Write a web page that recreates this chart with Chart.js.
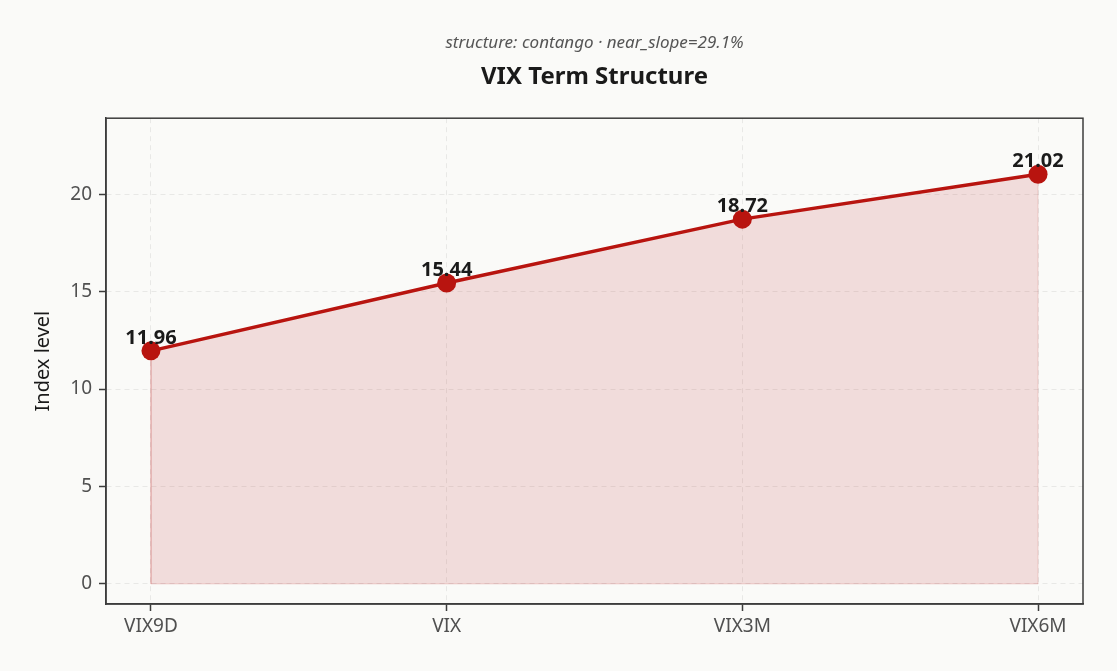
<!DOCTYPE html>
<html>
<head>
<meta charset="utf-8">
<script src="https://cdn.jsdelivr.net/npm/chart.js@4.4.1/dist/chart.umd.min.js"></script>
<style>
  html, body { margin: 0; padding: 0; background: #fafaf8; }
  #wrap { width: 1117px; height: 671px; }
</style>
</head>
<body>
<div id="wrap"><canvas id="c" width="1117" height="671"></canvas></div>
<script>
const categories = ['VIX9D', 'VIX', 'VIX3M', 'VIX6M'];
const vixValues = [11.96, 15.44, 18.72, 21.02];
const yTickValues = [0, 5, 10, 15, 20];
const titleText = 'VIX Term Structure';
const subtitleText = 'structure: contango \u00b7 near_slope=29.1%';
const yAxisTitle = 'Index level';

const FONT = "'Noto Sans', 'DejaVu Sans', sans-serif";
const RED = '#b8140f';

const mainPoints = vixValues.map((v, i) => ({ x: i, y: v }));
const last = vixValues.length - 1;
const outlinePoints = [
  { x: 0, y: vixValues[0] }, { x: 0, y: 0 },
  { x: last, y: 0 }, { x: last, y: vixValues[last] }
];

const framePlugin = {
  id: 'frame',
  afterDatasetsDraw(chart) {
    const { ctx, chartArea: a } = chart;
    ctx.save();
    ctx.setLineDash([]);
    ctx.strokeStyle = '#3c3c3c';
    ctx.lineWidth = 1.5;
    ctx.strokeRect(a.left, a.top, a.right - a.left, a.bottom - a.top);
    ctx.restore();
  }
};

const labelPlugin = {
  id: 'vlabels',
  afterDatasetsDraw(chart) {
    const meta = chart.getDatasetMeta(1);
    const ctx = chart.ctx;
    ctx.save();
    ctx.font = "bold 20px " + FONT;
    ctx.fillStyle = '#1a1a1a';
    ctx.textAlign = 'center';
    ctx.textBaseline = 'middle';
    meta.data.forEach((pt, i) => {
      ctx.fillText(vixValues[i].toFixed(2), pt.x, pt.y - 13);
    });
    ctx.restore();
  }
};

const bgPlugin = {
  id: 'bg',
  beforeDraw(chart) {
    const ctx = chart.ctx;
    ctx.save();
    ctx.fillStyle = '#fafaf8';
    ctx.fillRect(0, 0, chart.width, chart.height);
    ctx.restore();
  }
};

new Chart(document.getElementById('c'), {
  type: 'line',
  data: {
    datasets: [
      {
        data: outlinePoints,
        borderColor: 'rgba(200, 60, 60, 0.18)',
        borderWidth: 1,
        pointRadius: 0,
        fill: false,
        order: 2
      },
      {
        data: mainPoints,
        borderColor: RED,
        borderWidth: 3.5,
        backgroundColor: 'rgba(190, 40, 40, 0.14)',
        fill: 'origin',
        pointRadius: 9.5,
        pointHoverRadius: 9.5,
        pointBackgroundColor: RED,
        pointBorderColor: RED,
        pointBorderWidth: 0,
        tension: 0,
        order: 1
      }
    ]
  },
  options: {
    responsive: false,
    animation: false,
    devicePixelRatio: 1,
    layout: { padding: { left: 31, right: 34, top: 0, bottom: 0 } },
    plugins: {
      legend: { display: false },
      tooltip: { enabled: false },
      title: {
        display: true,
        text: titleText,
        fullSize: false,
        weight: 1000,
        color: '#1a1a1a',
        font: { family: FONT, size: 24, weight: 'bold', lineHeight: 1.2 },
        padding: { top: 5, bottom: 27 }
      },
      subtitle: {
        display: true,
        text: subtitleText,
        fullSize: false,
        weight: 2000,
        color: '#555',
        font: { family: FONT, size: 17, style: 'italic', lineHeight: 1.2 },
        padding: { top: 33, bottom: 4 }
      }
    },
    scales: {
      x: {
        type: 'linear',
        min: -0.152,
        max: 3.152,
        afterBuildTicks(scale) { scale.ticks = categories.map((c, i) => ({ value: i })); },
        ticks: {
          callback: (v) => categories[v] ?? '',
          color: '#505050',
          font: { family: FONT, size: 19 },
          padding: 4,
          autoSkip: false,
          maxRotation: 0
        },
        grid: {
          color: 'rgba(0,0,0,0.07)',
          tickColor: '#3c3c3c',
          tickBorderDash: [],
          tickLength: 7,
          tickWidth: 1.5
        },
        border: { display: true, color: '#3c3c3c', width: 1.5, dash: [5, 4] },
        afterFit(scale) { scale.height = 67; }
      },
      y: {
        type: 'linear',
        min: -1.03,
        max: 23.9,
        afterBuildTicks(scale) { scale.ticks = yTickValues.map(v => ({ value: v })); },
        ticks: {
          color: '#505050',
          font: { family: FONT, size: 19 },
          padding: 7
        },
        grid: {
          color: 'rgba(0,0,0,0.07)',
          tickColor: '#3c3c3c',
          tickBorderDash: [],
          tickLength: 7,
          tickWidth: 1.5
        },
        border: { display: true, color: '#3c3c3c', width: 1.5, dash: [5, 4] },
        title: {
          display: true,
          text: yAxisTitle,
          color: '#1a1a1a',
          font: { family: FONT, size: 20, lineHeight: 1.2 },
          padding: { top: 0, bottom: 0 }
        },
        afterFit(scale) { scale.width = 75; }
      }
    }
  },
  plugins: [bgPlugin, framePlugin, labelPlugin]
});
</script>
</body>
</html>
